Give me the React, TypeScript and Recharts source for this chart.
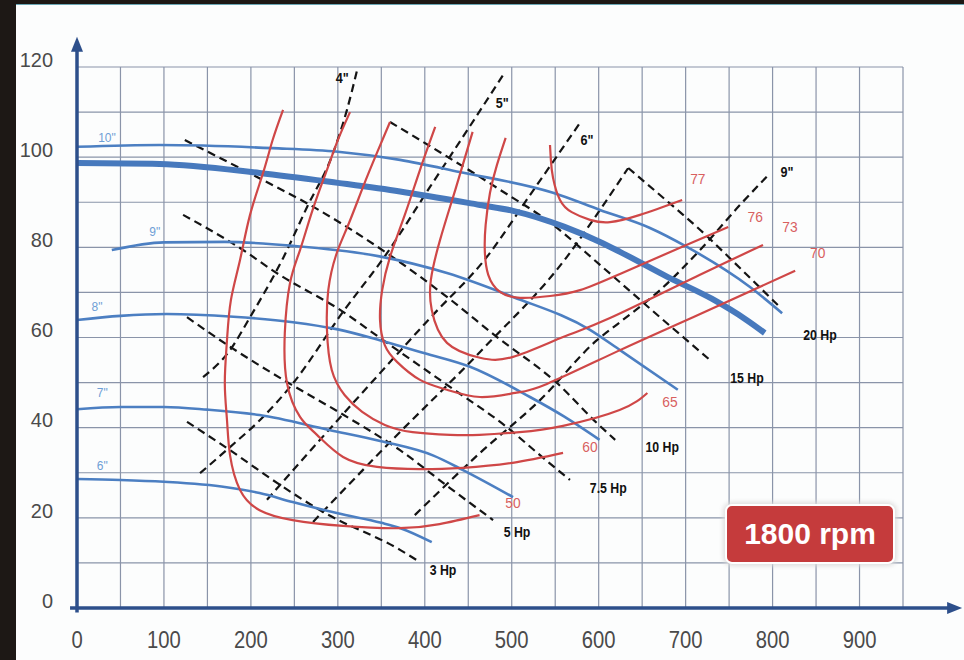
import React from 'react';
import { ComposedChart, Line, XAxis, YAxis, CartesianGrid, ReferenceLine, ReferenceDot } from 'recharts';

// flow (gpm) on x, head (ft) on y
const X_TICKS = [0, 50, 100, 150, 200, 250, 300, 350, 400, 450, 500, 550, 600, 650, 700, 750, 800, 850, 900, 950];
const Y_TICKS = [0, 10, 20, 30, 40, 50, 60, 70, 80, 90, 100, 110, 120];

// impeller head curves
const HEAD_10_IN = [[0, 102.3], [95, 102.7], [225, 102], [300, 101.2], [371.5, 99.4], [440, 96.7], [547.5, 92.1], [601.5, 88.3], [659, 84.3], [701.5, 80.1], [774, 71.2], [811, 65.4]];
const HEAD_10_IN_BOLD = [[0, 98.7], [95, 98.5], [210, 96.5], [300, 94.3], [371.5, 92.4], [463.5, 89.4], [501.5, 88.1], [560, 84.6], [601.5, 81.2], [624.5, 79], [678.5, 73.5], [730, 68.6], [770, 63.9], [791, 61]];
const HEAD_9_IN = [[40, 79.4], [100, 81.1], [170, 81.2], [250, 80.3], [348, 78], [425.5, 74.3], [501.5, 69], [590, 61.7], [624.5, 57.2], [691, 48.4]];
const HEAD_8_IN = [[0, 63.9], [50, 64.8], [103, 65.2], [180, 64.6], [248.5, 63.4], [300, 61.8], [350, 59.3], [400, 56.5], [452, 53.5], [521, 46.8], [560, 42.5], [601, 37.3]];
const HEAD_7_IN = [[0, 44.1], [50, 44.6], [100, 44.6], [150, 44], [210, 42.8], [290, 39.5], [350, 37], [410, 33.8], [444, 30.6], [501.5, 24.6]];
const HEAD_6_IN = [[0, 28.6], [50, 28.4], [100, 28], [172, 26.8], [210, 25.5], [248, 23.5], [300, 21], [350, 18.9], [372, 17.7], [408, 14.6]];

// efficiency contours (%)
const EFF_50 = [[237, 110.5], [225, 103.8], [214, 96.5], [199, 87.2], [187.5, 77.2], [177, 68.3], [172.5, 59.4], [170, 49.9], [172.5, 41.7], [176, 33.9], [187.5, 26.2], [210, 21.7], [248, 19.5], [306, 18.2], [371, 17.7], [417, 18.6], [463, 20.6]];
const EFF_60 = [[314, 110], [300, 103.8], [287.5, 97.2], [271, 88.3], [256.5, 79.4], [245, 72.1], [239, 61], [241.5, 49.9], [256.5, 42.4], [276, 38.4], [306, 33.5], [345, 31.3], [394, 30.8], [444, 31.1], [501, 32.2], [559, 34.4]];
const EFF_65 = [[360, 107.8], [344, 100.5], [329, 93.4], [312, 85], [298, 78.3], [289, 70.5], [287.5, 61.7], [293, 52.8], [308, 47.2], [328, 43.5], [354, 40.6], [386, 39], [429, 38.4], [463, 38.4], [509, 39], [559, 40.4], [624, 43.9], [656, 47.7]];
const EFF_70 = [[412, 106.7], [394.5, 97.2], [377, 87.2], [360, 77.9], [351, 70.5], [348.5, 63.9], [354, 58.3], [368, 54.6], [394.5, 50.6], [425.5, 48.4], [463.5, 46.8], [504, 47.7], [540.5, 49.7], [624.5, 57.2], [708.5, 64.5], [826, 74.8]];
const EFF_73 = [[455, 105.6], [435, 92.7], [417.5, 81.6], [407, 72.8], [408, 66.1], [425.5, 58.8], [463.5, 55.5], [501.5, 55.7], [559, 60.1], [613, 64.3], [716.5, 73.9], [789, 80.5]];
const EFF_76 = [[493, 104.3], [483, 98.3], [475, 92.1], [470, 85], [469, 79.4], [473, 73.9], [486.5, 70.1], [509.5, 68.8], [544, 69.2], [578.5, 70.5], [624.5, 74.1], [693.5, 79.9], [749, 84.5]];
const EFF_77 = [[544, 102.7], [545, 99.4], [547.5, 95.4], [555.5, 90.5], [569, 87.8], [590, 86.1], [613, 85.6], [647.5, 87.2], [696, 90.5]];

// brake horsepower lines
const HP_3 = [[126.5, 41.3], [176, 35], [233.5, 27.3], [283, 21.3], [371.5, 12.9], [391, 10.6]];
const HP_5 = [[126.5, 64.5], [178, 57.7], [247, 49.5], [302.5, 43.3], [371.5, 35], [429, 26.6], [478.5, 19.5]];
const HP_7_5 = [[122, 87.2], [191, 79.4], [228, 74.5], [306, 65.7], [348.5, 59.9], [425.5, 49.5], [494.5, 40.1], [532.5, 33.9], [567, 28.4]];
const HP_10 = [[124, 103.8], [214, 94.9], [268, 89.4], [356.5, 78.7], [425.5, 69], [483, 60.1], [552, 49.9], [598, 41], [619, 37.3]];
const HP_15 = [[360, 107.8], [417.5, 101.1], [483, 93.2], [547.5, 85], [601.5, 76.1], [670.5, 64.5], [728, 55]];
const HP_20 = [[634, 97.6], [670.5, 91.6], [716.5, 83.9], [762.5, 75.4], [806, 67.2]];

// NPSH lines
const NPSH_4 = [[145, 51.2], [176, 57.2], [199, 64.5], [237, 77.6], [264.5, 88.9], [294.5, 100.9], [310.5, 110.5], [323, 120]];
const NPSH_5 = [[141.5, 29.9], [176, 35.7], [210.5, 41.7], [247, 49.5], [306, 65.7], [356.5, 78.7], [406, 93.4], [452, 106.9], [490, 118.2]];
const NPSH_6 = [[218.5, 24], [279.5, 37.3], [348.5, 52.1], [406, 64.3], [471.5, 77.9], [521, 91.6], [578.5, 107.6]];
const NPSH_7 = [[271.5, 19.1], [359, 36.6], [463.5, 56.8], [563.5, 77.9], [601.5, 88.3], [634, 97.6]];
const NPSH_9 = [[388.5, 20.6], [463.5, 34.4], [532.5, 46.1], [598, 59.4], [624.5, 63.4], [670.5, 70.5], [716.5, 79.4], [762.5, 89.4], [795, 96]];

const HEAD_LABELS = [
  { q: 34.5, h: 104.3, text: '10"' },
  { q: 89.5, h: 83.4, text: '9"' },
  { q: 23, h: 66.8, text: '8"' },
  { q: 29, h: 47.7, text: '7"' },
  { q: 29, h: 31.5, text: '6"' },
];
const EFF_LABELS = [
  { q: 714, h: 95.2, text: '77' },
  { q: 780, h: 86.7, text: '76' },
  { q: 820, h: 84.5, text: '73' },
  { q: 852, h: 78.7, text: '70' },
  { q: 682, h: 45.7, text: '65' },
  { q: 590, h: 35.7, text: '60' },
  { q: 501.5, h: 23.3, text: '50' },
];
const NPSH_LABELS = [
  { q: 305, h: 117.6, text: '4"' },
  { q: 489, h: 112, text: '5"' },
  { q: 586.5, h: 103.8, text: '6"' },
  { q: 816.5, h: 96.7, text: '9"' },
];
const HP_LABELS = [
  { q: 421, h: 8.4, text: '3 Hp' },
  { q: 506, h: 16.9, text: '5 Hp' },
  { q: 611, h: 26.6, text: '7.5 Hp' },
  { q: 673, h: 35.7, text: '10 Hp' },
  { q: 770.5, h: 51, text: '15 Hp' },
  { q: 854.5, h: 60.6, text: '20 Hp' },
];

const pts = (arr: number[][]) => arr.map(([q, h]) => ({ q, h }));

const FONT = "'Liberation Sans', Arial, sans-serif";
const AXIS = '#2d4f8b';
const BLUE = '#4c7fc2';
const RED = '#cf4747';

function XTick(props: any) {
  const { x, y, payload } = props;
  const v = payload.value;
  if (v % 100 !== 0 || v > 900) return null;
  return (
    <text transform={`translate(${x},${y + 24}) scale(0.88,1)`} textAnchor="middle" dominantBaseline="central" fill="#4a4a4a" fontSize={23} fontFamily={FONT}>
      {v}
    </text>
  );
}

function YTick(props: any) {
  const { x, y, payload } = props;
  const v = payload.value;
  if (v % 20 !== 0) return null;
  return (
    <text transform={`translate(${x - 16},${y - 8}) scale(0.95,1)`} textAnchor="end" dominantBaseline="central" fill="#4a4a4a" fontSize={21} fontFamily={FONT}>
      {v}
    </text>
  );
}

function ArrowAxis(props: any) {
  const { x1, y1, x2, y2 } = props;
  const a = Math.atan2(y2 - y1, x2 - x1);
  const len = 15;
  const half = 6;
  const bx = x2 - len * Math.cos(a);
  const by = y2 - len * Math.sin(a);
  const p1 = `${bx + half * Math.sin(a)},${by - half * Math.cos(a)}`;
  const p2 = `${bx - half * Math.sin(a)},${by + half * Math.cos(a)}`;
  return (
    <g>
      <line x1={x1} y1={y1} x2={bx + 2 * Math.cos(a)} y2={by + 2 * Math.sin(a)} stroke={AXIS} strokeWidth={3.5} />
      <polygon points={`${x2},${y2} ${p1} ${p2}`} fill={AXIS} />
    </g>
  );
}

const textShape = (text: string, style: any, sx = 1) => (p: any) => (
  <text transform={`translate(${p.cx},${p.cy}) scale(${sx},1)`} textAnchor="middle" dominantBaseline="central" {...style}>
    {text}
  </text>
);

const headLines = [HEAD_10_IN, HEAD_9_IN, HEAD_8_IN, HEAD_7_IN, HEAD_6_IN];
const effLines = [EFF_50, EFF_60, EFF_65, EFF_70, EFF_73, EFF_76, EFF_77];
const dashLines = [HP_3, HP_5, HP_7_5, HP_10, HP_15, HP_20, NPSH_4, NPSH_5, NPSH_6, NPSH_7, NPSH_9];

export default function App() {
  return (
    <div style={{ position: 'absolute', left: 0, top: 0, width: 964, height: 660, background: '#1d1815', overflow: 'hidden' }}>
      <div style={{ position: 'absolute', left: 16, top: 4, right: 0, bottom: 0, background: '#fcfdfd', borderTop: '1px solid #6aa6b4' }} />
      <div style={{ position: 'absolute', left: 0, top: 0 }}>
        <ComposedChart width={964} height={660} margin={{ top: 67, right: 61, bottom: 22, left: 17 }}>
          <CartesianGrid stroke="#8a94a9" strokeWidth={1.2} />
          <XAxis type="number" dataKey="q" domain={[0, 950]} ticks={X_TICKS} interval={0} axisLine={false} tickLine={false} tick={<XTick />} height={30} />
          <YAxis type="number" dataKey="h" domain={[0, 120]} ticks={Y_TICKS} interval={0} axisLine={false} tickLine={false} tick={<YTick />} width={60} />

          {dashLines.map((d, i) => (
            <Line key={`d${i}`} data={pts(d)} dataKey="h" type="monotone" stroke="#141414" strokeWidth={2.2} strokeDasharray="8 5" dot={false} activeDot={false} isAnimationActive={false} />
          ))}
          {headLines.map((d, i) => (
            <Line key={`h${i}`} data={pts(d)} dataKey="h" type="monotone" stroke={BLUE} strokeWidth={2.6} dot={false} activeDot={false} isAnimationActive={false} />
          ))}
          <Line data={pts(HEAD_10_IN_BOLD)} dataKey="h" type="monotone" stroke="#4779bd" strokeWidth={6} dot={false} activeDot={false} isAnimationActive={false} />
          {effLines.map((d, i) => (
            <Line key={`e${i}`} data={pts(d)} dataKey="h" type="natural" stroke={RED} strokeWidth={2.2} dot={false} activeDot={false} isAnimationActive={false} />
          ))}

          <ReferenceLine segment={[{ x: 0, y: -1 }, { x: 0, y: 126.7 }]} ifOverflow="visible" shape={ArrowAxis} />
          <ReferenceLine segment={[{ x: -8, y: 0 }, { x: 1018, y: 0 }]} ifOverflow="visible" shape={ArrowAxis} />

          {HEAD_LABELS.map((l) => (
            <ReferenceDot key={`hl${l.text}`} x={l.q} y={l.h} r={0} ifOverflow="visible" shape={textShape(l.text, { fill: '#6f9fd6', fontSize: 12, fontFamily: FONT })} />
          ))}
          {EFF_LABELS.map((l) => (
            <ReferenceDot key={`el${l.text}`} x={l.q} y={l.h} r={0} ifOverflow="visible" shape={textShape(l.text, { fill: '#d8605f', fontSize: 15, fontFamily: FONT }, 0.92)} />
          ))}
          {NPSH_LABELS.map((l) => (
            <ReferenceDot key={`nl${l.text}`} x={l.q} y={l.h} r={0} ifOverflow="visible" shape={textShape(l.text, { fill: '#111', fontSize: 14, fontWeight: 'bold', fontFamily: FONT }, 0.9)} />
          ))}
          {HP_LABELS.map((l) => (
            <ReferenceDot key={`pl${l.text}`} x={l.q} y={l.h} r={0} ifOverflow="visible" shape={textShape(l.text, { fill: '#111', fontSize: 14, fontWeight: 'bold', fontFamily: FONT }, 0.88)} />
          ))}
        </ComposedChart>
      </div>
      <div
        style={{
          position: 'absolute',
          left: 725,
          top: 504,
          width: 166,
          height: 56,
          background: '#c53b3c',
          borderRadius: 7,
          border: '2px solid #ffffff',
          boxShadow: '0 0 4px 2px rgba(220,220,220,0.9)',
          color: '#ffffff',
          fontFamily: FONT,
          fontWeight: 'bold',
          fontSize: 30,
          display: 'flex',
          alignItems: 'center',
          justifyContent: 'center',
        }}
      >
        1800 rpm
      </div>
    </div>
  );
}
